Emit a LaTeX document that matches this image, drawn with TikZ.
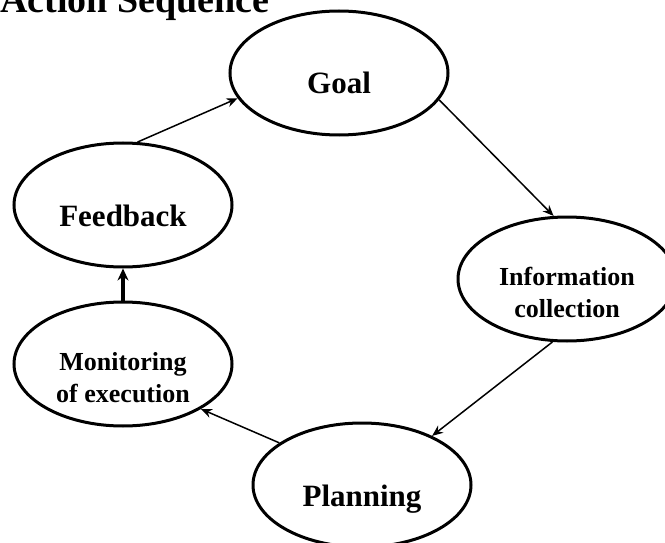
\documentclass[tikz,border=0pt]{standalone}
\usepackage{fontspec}
\setmainfont{Liberation Serif}
\usetikzlibrary{shapes.geometric, arrows.meta}
\tikzstyle{stage} = [ellipse, draw=black, line width=3pt, minimum width=218pt, minimum height=124pt, inner sep=0pt, align=center, font=\fontsize{31}{37}\selectfont\bfseries, text height=42pt, text depth=0pt]
\tikzstyle{smallstage} = [stage, font=\fontsize{26}{31.5}\selectfont\bfseries, text height=76pt]
\tikzstyle{arrow} = [line width=1.5pt, -{Stealth[length=11pt,width=9pt]}]
\tikzstyle{thickarrow} = [arrow, line width=3.2pt, -{Stealth[length=12pt,width=11pt]}]

\begin{document}
\begin{tikzpicture}[x=1pt, y=-1pt]
            \useasboundingbox (0,0) rectangle (665,543);
            \clip (0,0) rectangle (665,543);
            \node (title) [anchor=base west, inner sep=0pt, font=\fontsize{38}{44}\selectfont\bfseries] at (0,13) {Action Sequence};

            \node (goal) [stage] at (339,73) {Goal};
            \node (info) [smallstage] at (567,279) {Information\\collection};
            \node (plan) [stage] at (362,485) {Planning};
            \node (monitor) [smallstage] at (123,364) {Monitoring\\of execution};
            \node (feedback) [stage] at (123,205) {Feedback};

            \draw [arrow] (goal.-15) -- (info.102);
            \draw [arrow] (info.257) -- (plan.35);
            \draw [arrow] (plan.153) -- (monitor.330);
            \draw [thickarrow] (monitor.north) -- (feedback.south);
            \draw [arrow] (feedback.77) -- (goal.194);
        \end{tikzpicture}
\end{document}
